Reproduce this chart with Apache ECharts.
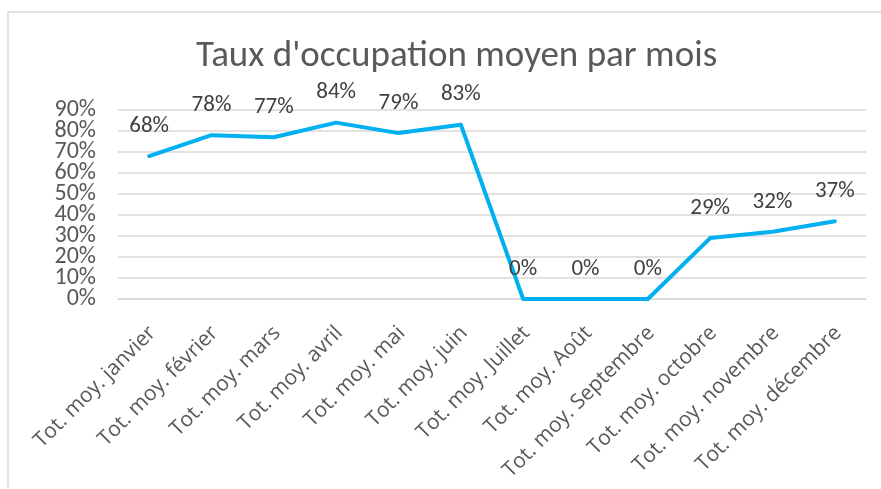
<!DOCTYPE html>
<html>
<head>
<meta charset="utf-8">
<script src="https://cdn.jsdelivr.net/npm/echarts@6/dist/echarts.min.js"></script>
<style>
html,body{margin:0;padding:0;background:#fff;}
#c{width:881px;height:489px;}
</style>
</head>
<body>
<div id="c"></div>
<script>
const titleText = "Taux d'occupation moyen par mois";
const categories = ["Tot. moy. janvier","Tot. moy. février","Tot. moy. mars","Tot. moy. avril","Tot. moy. mai","Tot. moy. juin","Tot. moy. Juillet","Tot. moy. Août","Tot. moy. Septembre","Tot. moy. octobre","Tot. moy. novembre","Tot. moy. décembre"];
const occupation = [0.68,0.78,0.77,0.84,0.79,0.83,0,0,0,0.29,0.32,0.37];
const yTicks = [0,0.1,0.2,0.3,0.4,0.5,0.6,0.7,0.8,0.9];
const yTickLabels = ["0%","10%","20%","30%","40%","50%","60%","70%","80%","90%"];

const FONT = "Carlito, Calibri, Lato, sans-serif";
const AXFONT = "Open Sans";
const chart = echarts.init(document.getElementById('c'));
chart.setOption({
  animation:false,
  backgroundColor:'#fff',
  graphic:[{type:'rect',shape:{x:8,y:12,width:1000,height:1000},style:{fill:'none',stroke:'#D9D9D9',lineWidth:1.5},silent:true}],
  title:{text:titleText,left:191,top:33,textStyle:{fontFamily:FONT,fontSize:37,fontWeight:'normal',color:'#595959'}},
  grid:{left:118,right:15,top:110,bottom:190},
  xAxis:{type:'category',data:categories,boundaryGap:true,
    axisLine:{lineStyle:{color:'#D9D9D9',width:1.5}},axisTick:{show:false},
    axisLabel:{rotate:45,interval:0,margin:19,verticalAlign:'top',padding:[0,6,0,0],fontFamily:AXFONT,fontSize:21,color:'#595959'}},
  yAxis:[
    {type:'value',position:'left',min:yTicks[0],max:yTicks[yTicks.length-1],interval:0.1,
      axisLine:{show:false},axisTick:{show:false},axisLabel:{show:false},
      splitLine:{lineStyle:{color:'#D9D9D9',width:1.5}}},
    {type:'category',position:'left',offset:0,data:yTickLabels,boundaryGap:false,
      axisLine:{show:false},axisTick:{show:false},splitLine:{show:false},
      axisLabel:{interval:0,margin:22,fontFamily:FONT,fontSize:24,color:'#595959'}}
  ],
  series:[{type:'line',yAxisIndex:0,data:occupation,showSymbol:true,symbol:'circle',symbolSize:1,
    itemStyle:{color:'rgba(0,0,0,0)'},
    lineStyle:{color:'#00B0F0',width:4,cap:'round',join:'round'},
    label:{show:true,position:'top',distance:18,fontFamily:FONT,fontSize:23,color:'#404040',formatter:p=>Math.round(p.value*100)+'%'}}]
});
</script>
</body>
</html>
